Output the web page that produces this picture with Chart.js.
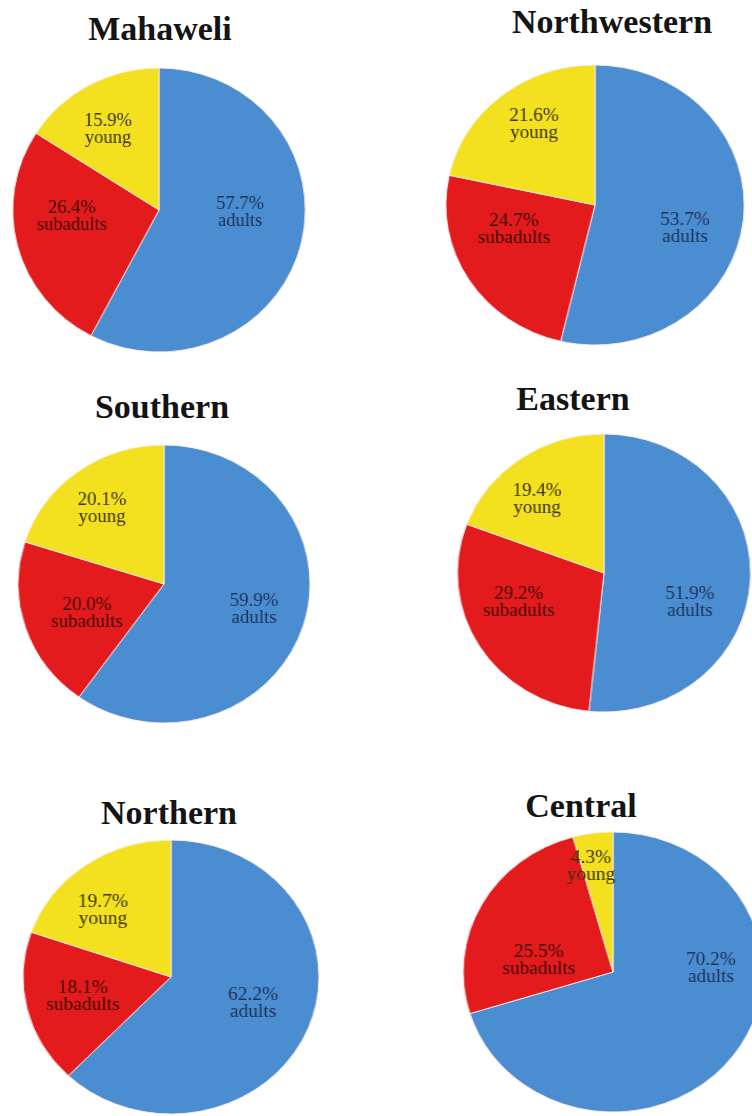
<!DOCTYPE html>
<html>
<head>
<meta charset="utf-8">
<script src="https://cdn.jsdelivr.net/npm/chart.js@4.4.1/dist/chart.umd.min.js"></script>
<style>
    html, body { margin: 0; padding: 0; background: #fff; }
    body { width: 752px; height: 1116px; position: relative; overflow: hidden; }
    .title {
        position: absolute;
        width: 320px;
        text-align: center;
        font: bold 34px 'Liberation Serif', 'Times New Roman', serif;
        line-height: 34px;
        color: #141414;
        white-space: nowrap;
    }
    .pie { position: absolute; }
</style>
</head>
<body>
<script>
// Age structure by region (percent)
const regions = ['Mahaweli', 'Northwestern', 'Southern', 'Eastern', 'Northern', 'Central'];
const categories = ['adults', 'subadults', 'young'];
const adults = [57.7, 53.7, 59.9, 51.9, 62.2, 70.2];
const subadults = [26.4, 24.7, 20.0, 29.2, 18.1, 25.5];
const young = [15.9, 21.6, 20.1, 19.4, 19.7, 4.3];

// Styles
const sliceColors = ['#4b8dd1', '#e31b1c', '#f3e01f'];
const labelColors = ['#1d3158', '#3c0b0a', '#3a340c'];

// Layout: pie centre, radius, horizontal stretch of the scan, title anchor, label offsets
const panels = [
    { cx: 159, cy: 210, r: 142, sx: 1.03, tx: 160, ty: 40, offsets: [[81, 3], [-87, 7], [-51, -80]] },
    { cx: 595, cy: 205, r: 140, sx: 1.065, tx: 612, ty: 33, offsets: [[90, 24], [-81, 25], [-61, -80]] },
    { cx: 164, cy: 584, r: 139, sx: 1.05, tx: 162, ty: 418, offsets: [[90, 26], [-77, 30], [-62, -75]] },
    { cx: 604, cy: 573, r: 139, sx: 1.054, tx: 573, ty: 410, offsets: [[86, 30], [-85, 30], [-67, -73]] },
    { cx: 171, cy: 977, r: 137, sx: 1.08, tx: 169, ty: 824, offsets: [[82, 27], [-88, 20], [-68, -66]] },
    { cx: 613, cy: 972, r: 140, sx: 1.07, tx: 581, ty: 817, offsets: [[98, -3], [-74, -11], [-22, -105]] }
];

// Draw the two-line labels inside each slice
const sliceLabels = {
    id: 'sliceLabels',
    afterDatasetsDraw(chart, args, opts) {
        const ctx = chart.ctx;
        const meta = chart.getDatasetMeta(0);
        const values = chart.data.datasets[0].data;
        ctx.save();
        ctx.font = '18px "Liberation Serif", "Times New Roman", serif';
        ctx.textAlign = 'center';
        ctx.textBaseline = 'middle';
        meta.data.forEach(function(arc, i) {
            const off = opts.offsets[i];
            const x = arc.x + off[0] / opts.sx;
            const y = arc.y + off[1];
            ctx.fillStyle = labelColors[i];
            ctx.fillText(values[i].toFixed(1) + '%', x, y - 8.5);
            ctx.fillText(chart.data.labels[i], x, y + 8.5);
        });
        ctx.restore();
    }
};

regions.forEach(function(name, k) {
    const p = panels[k];

    // Title
    const title = document.createElement('div');
    title.className = 'title';
    title.textContent = name;
    title.style.left = (p.tx - 160) + 'px';
    title.style.top = (p.ty - 28.5) + 'px';
    document.body.appendChild(title);

    // Pie
    const size = 2 * p.r + 10;
    const box = document.createElement('div');
    box.className = 'pie';
    box.style.left = (p.cx - size / 2) + 'px';
    box.style.top = (p.cy - size / 2) + 'px';
    box.style.width = size + 'px';
    box.style.height = size + 'px';
    box.style.transform = 'scaleX(' + p.sx + ')';
    box.style.transformOrigin = '50% 50%';
    const canvas = document.createElement('canvas');
    box.appendChild(canvas);
    document.body.appendChild(box);

    new Chart(canvas.getContext('2d'), {
        type: 'pie',
        data: {
            labels: categories,
            datasets: [{
                data: [adults[k], subadults[k], young[k]],
                backgroundColor: sliceColors,
                borderColor: 'rgba(255, 235, 235, 0.85)',
                borderWidth: 1,
                radius: p.r
            }]
        },
        options: {
            responsive: true,
            maintainAspectRatio: false,
            animation: false,
            layout: { padding: 0 },
            plugins: {
                legend: { display: false },
                tooltip: { enabled: false },
                sliceLabels: { offsets: p.offsets, sx: p.sx }
            }
        },
        plugins: [sliceLabels]
    });
});
</script>
</body>
</html>
